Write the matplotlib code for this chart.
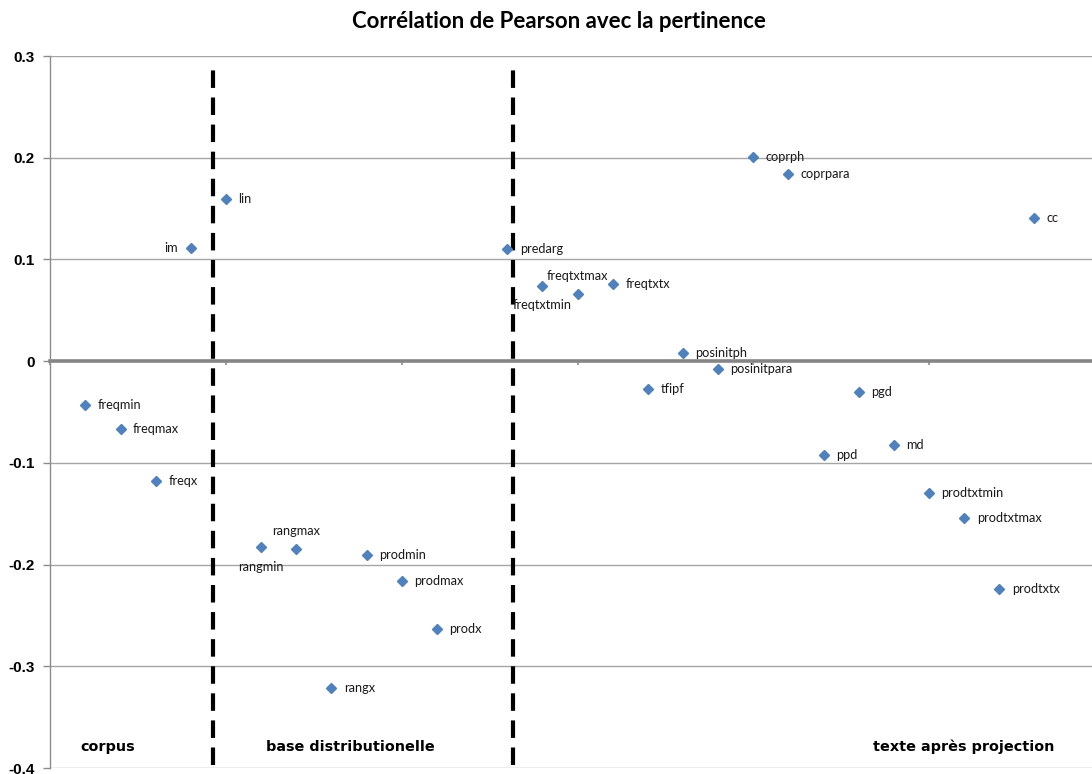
import matplotlib
matplotlib.use("Agg")
import matplotlib.pyplot as plt

names = ["freqmin", "freqmax", "freqx", "im", "lin",
         "rangmin", "rangmax", "rangx", "prodmin", "prodmax", "prodx",
         "predarg", "freqtxtmin", "freqtxtmax", "freqtxtx", "tfipf",
         "posinitph", "posinitpara", "coprph", "coprpara", "ppd", "pgd",
         "md", "prodtxtmin", "prodtxtmax", "prodtxtx", "cc"]
xpos = [1, 2, 3, 4, 5, 6, 7, 8, 9, 10, 11, 13, 14, 15, 16, 17, 18, 19,
        20, 21, 22, 23, 24, 25, 26, 27, 28]
values = [-0.043, -0.067, -0.118, 0.111, 0.159,
          -0.183, -0.185, -0.321, -0.191, -0.216, -0.263,
          0.110, 0.074, 0.066, 0.076, -0.027,
          0.008, -0.008, 0.201, 0.184, -0.092, -0.030,
          -0.082, -0.130, -0.154, -0.224, 0.141]
# label placement: r = right, l = left, a = above, b = below
placement = ["r", "r", "r", "l", "r",
             "b", "a", "r", "r", "r", "r",
             "r", "b", "a", "r", "r",
             "r", "r", "r", "r", "r", "r",
             "r", "r", "r", "r", "r"]
yticks = [0.3, 0.2, 0.1, 0, -0.1, -0.2, -0.3, -0.4]
ytick_labels = ["0.3", "0.2", "0.1", "0", "-0.1", "-0.2", "-0.3", "-0.4"]
separators = [4.63, 13.17]
sections = ["corpus", "base distributionelle", "texte après projection"]
title = "Corrélation de Pearson avec la pertinence"

W, H = 1092, 774
fig = plt.figure(figsize=(W / 100, H / 100), dpi=100)
ax = fig.add_axes([50.25 / W, 6 / H, (W - 50.25) / W, (768 - 56) / H])
ax.set_xlim(0, (W - 50.25) / 35.15)
ax.set_ylim(-0.4, 0.3)

grid_c = "#a6a6a6"
for y in yticks:
    if y != 0:
        ax.axhline(y, color=grid_c, lw=1.0, zorder=1)

for s in ["top", "right"]:
    ax.spines[s].set_visible(False)
ax.spines["left"].set_color("#8c8c8c")
ax.spines["left"].set_linewidth(1.0)
ax.spines["bottom"].set_position(("data", 0))
ax.spines["bottom"].set_color("#858585")
ax.spines["bottom"].set_linewidth(2.6)
ax.spines["bottom"].set_zorder(2)

ax.set_xticks([0, 5, 10, 15, 20, 25])
ax.set_xticklabels([])
ax.tick_params(axis="x", direction="out", length=3, color="#a0a0a0", width=1.5)
ax.set_yticks(yticks)
ax.set_yticklabels(ytick_labels, fontfamily="Liberation Sans", fontweight="bold",
                   fontsize=11)
ax.tick_params(axis="y", direction="out", length=5, color="#8c8c8c", width=1, pad=6)

for sx in separators:
    ax.plot([sx, sx], [-0.397, 0.291], color="black", lw=3,
            dashes=(4.2, 2.3), zorder=3)

ax.plot(xpos, values, linestyle="none", marker="D", ms=5.6,
        color="#4f81bd", zorder=4)

lab_font = dict(fontfamily="Lato", fontsize=9.2, color="#1a1a1a")
for n, x, v, p in zip(names, xpos, values, placement):
    if p == "r":
        ax.annotate(n, (x, v), xytext=(9, 0), textcoords="offset points",
                    ha="left", va="center", **lab_font)
    elif p == "l":
        ax.annotate(n, (x, v), xytext=(-9, 0), textcoords="offset points",
                    ha="right", va="center", **lab_font)
    elif p == "a":
        ax.annotate(n, (x, v), xytext=(0, 13), textcoords="offset points",
                    ha="center", va="center", **lab_font)
    else:
        ax.annotate(n, (x, v), xytext=(0, -14), textcoords="offset points",
                    ha="center", va="center", **lab_font)

sec_font = dict(fontfamily="DejaVu Sans", fontweight="bold", fontsize=10.4,
                color="black")
fig.text(80 / W, 1 - 747 / H, sections[0], ha="left", va="center", **sec_font)
fig.text(266 / W, 1 - 747 / H, sections[1], ha="left", va="center", **sec_font)
fig.text(1054 / W, 1 - 747 / H, sections[2], ha="right", va="center", **sec_font)

fig.text(559 / W, 1 - 22 / H, title, ha="center", va="center",
         fontfamily="Lato", fontweight="bold", fontsize=16, color="black")

fig.savefig("out.png", dpi=100)
